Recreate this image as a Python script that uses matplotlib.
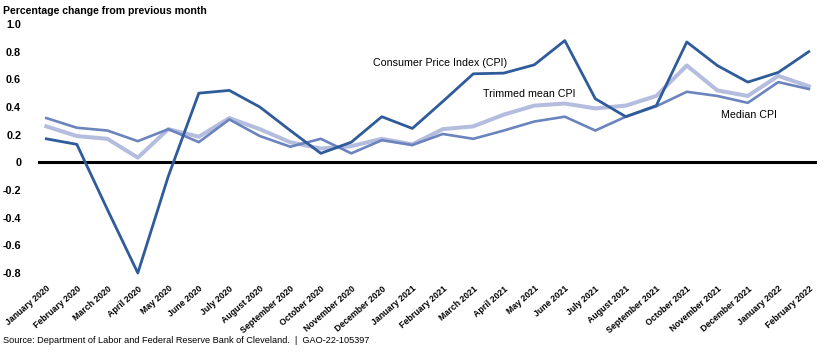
import matplotlib
matplotlib.use("Agg")
import matplotlib.pyplot as plt
import numpy as np

plt.rcParams["font.family"] = ["Liberation Sans", "DejaVu Sans"]

# ── data ──────────────────────────────────────────────────────────────────────
MONTHS = [
    "January 2020", "February 2020", "March 2020", "April 2020", "May 2020",
    "June 2020", "July 2020", "August 2020", "September 2020", "October 2020",
    "November 2020", "December 2020", "January 2021", "February 2021",
    "March 2021", "April 2021", "May 2021", "June 2021", "July 2021",
    "August 2021", "September 2021", "October 2021", "November 2021",
    "December 2021", "January 2022", "February 2022",
]
CPI = [0.17, 0.13, -0.34, -0.80, -0.10, 0.50, 0.52, 0.40, 0.23, 0.065,
       0.146, 0.33, 0.245, 0.44, 0.64, 0.645, 0.705, 0.88, 0.46, 0.33,
       0.41, 0.87, 0.70, 0.58, 0.65, 0.80]
TRIMMED = [0.26, 0.19, 0.17, 0.034, 0.24, 0.185, 0.32, 0.24, 0.145, 0.10,
           0.117, 0.17, 0.13, 0.24, 0.26, 0.345, 0.41, 0.425, 0.39, 0.41,
           0.48, 0.70, 0.52, 0.48, 0.625, 0.55]
MEDIAN = [0.32, 0.25, 0.23, 0.153, 0.24, 0.146, 0.31, 0.19, 0.113, 0.17,
          0.065, 0.16, 0.125, 0.205, 0.17, 0.23, 0.295, 0.33, 0.23, 0.33,
          0.405, 0.51, 0.48, 0.43, 0.58, 0.53]
Y_TICKS = [-0.8, -0.6, -0.4, -0.2, 0, 0.2, 0.4, 0.6, 0.8, 1.0]
Y_LABELS = ["-0.8", "-0.6", "-0.4", "-0.2", "0", "0.2", "0.4", "0.6", "0.8", "1.0"]

C_CPI = "#2f5b9b"
C_MED = "#6b84bd"
C_TRIM = "#b5bddf"

# ── figure ────────────────────────────────────────────────────────────────────
fig = plt.figure(figsize=(8.4, 3.53), dpi=100)
ax = fig.add_axes([0.045, 0.2266, 0.928, 0.7054])

x = np.arange(len(MONTHS))
ax.plot(x, TRIMMED, color=C_TRIM, lw=2.9, clip_on=False, zorder=2)
ax.plot(x, MEDIAN, color=C_MED, lw=1.9, clip_on=False, zorder=3)
ax.plot(x, CPI, color=C_CPI, lw=2.0, clip_on=False, zorder=4)
ax.axhline(0, color="black", lw=2.2, zorder=1)

ax.set_xlim(-0.28, len(MONTHS) - 1 + 0.28)
ax.set_ylim(-0.8, 1.0)
ax.set_yticks(Y_TICKS)
ax.set_yticklabels(Y_LABELS, fontweight="bold", fontsize=7.8)
ax.set_xticks(x)
ax.set_xticklabels(MONTHS, rotation=41, ha="right", rotation_mode="anchor",
                   fontweight="bold", fontsize=6.3)
ax.tick_params(axis="y", length=0, pad=12)
ax.tick_params(axis="x", length=0, pad=8)
for s in ax.spines.values():
    s.set_visible(False)

ax.text(10.72, 0.716, "Consumer Price Index (CPI)", fontsize=7.7, va="center", ha="left")
ax.text(14.32, 0.494, "Trimmed mean CPI", fontsize=7.7, va="center", ha="left")
ax.text(22.11, 0.34, "Median CPI", fontsize=7.7, va="center", ha="left")

fig.text(0.004, 0.982, "Percentage change from previous month",
         fontsize=7.6, fontweight="bold", va="top", ha="left")
fig.text(0.004, 0.022, "Source: Department of Labor and Federal Reserve Bank of Cleveland.  |  GAO-22-105397",
         fontsize=6.6, va="bottom", ha="left")

fig.savefig("out.png", dpi=100)
